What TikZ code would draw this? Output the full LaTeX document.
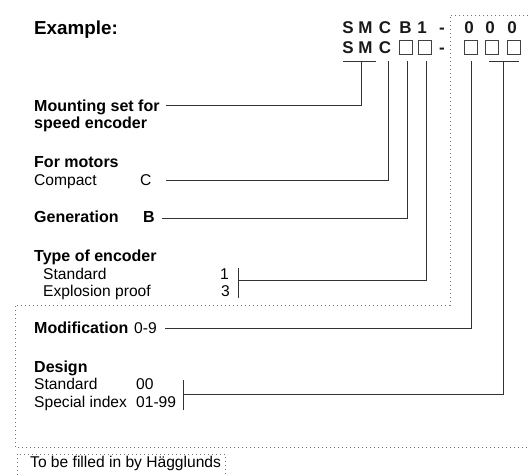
\documentclass[tikz,border=0pt]{standalone}
\usepackage{fontspec}
\setmainfont{Liberation Sans}
\begin{document}
\begin{tikzpicture}[x=1pt,y=-1pt,
  lbl/.style={anchor=base west, inner sep=0pt, font=\fontsize{15.6}{18}\selectfont},
  blbl/.style={anchor=base west, inner sep=0pt, font=\fontsize{16}{18}\selectfont\bfseries},
  code/.style={anchor=base, inner sep=0pt, text=black!90, font=\fontsize{17}{18}\selectfont\bfseries},
  conn/.style={line width=0.9pt, black!80},
  dots/.style={black!55, line width=0.9pt, dash pattern=on 0.9pt off 3.1pt},
  cbox/.style={draw=black!75, line width=0.8pt, minimum width=13pt, minimum height=14pt, inner sep=0pt}]
\useasboundingbox (0,0) rectangle (528,475);

% dotted frames
\coordinate (f1) at (528,15);
\coordinate (f2) at (450,15);
\coordinate (f3) at (450,305);
\coordinate (f4) at (15,305);
\coordinate (f5) at (15,447);
\coordinate (f6) at (528,447);
\draw[dots] (f1) -- (f2) -- (f3) -- (f4) -- (f5) -- (f6);
\coordinate (g1) at (17,475);
\coordinate (g2) at (17,454);
\coordinate (g3) at (225,454);
\coordinate (g4) at (225,475);
\draw[dots] (g1) -- (g2) -- (g3) -- (g4);
\node[lbl] (fill) at (30,467) {To be filled in by Hägglunds};

% title
\node[anchor=base west, inner sep=0pt, font=\fontsize{18.8}{20}\selectfont\bfseries] (ex) at (34,34) {Example:};

% code row 1
\node[code] (r1s) at (348,33) {S};
\node[code] (r1m) at (365.5,33) {M};
\node[code] (r1c) at (385,33) {C};
\node[code] (r1b) at (405.5,33) {B};
\node[code] (r1n) at (422,33) {1};
\node[code] (r1d) at (442,33) {-};
\node[code] (r1z1) at (469,33) {0};
\node[code] (r1z2) at (490,33) {0};
\node[code] (r1z3) at (512,33) {0};

% code row 2
\node[code] (r2s) at (348,53.5) {S};
\node[code] (r2m) at (365.5,53.5) {M};
\node[code] (r2c) at (385,53.5) {C};
\node[cbox] (bx1) at (405.5,47.5) {};
\node[cbox] (bx2) at (424.5,47.5) {};
\node[code] (r2d) at (442,53.5) {-};
\node[cbox] (bx3) at (471,47.5) {};
\node[cbox] (bx4) at (491.5,47.5) {};
\node[cbox] (bx5) at (513.5,47.5) {};

% labels
\node[blbl] (mount1) at (34,111) {Mounting set for};
\node[blbl] (mount2) at (34,128.5) {speed encoder};
\node[blbl] (motors) at (34,167.5) {For motors};
\node[lbl] (compact) at (34,185) {Compact};
\node[lbl] (cval) at (140,185) {C};
\node[blbl] (gen) at (34,222.5) {Generation};
\node[blbl] (bval) at (143,222.5) {B};
\node[blbl] (type) at (34,261) {Type of encoder};
\node[lbl] (std1) at (43,279) {Standard};
\node[lbl] (one) at (220,279) {1};
\node[lbl] (expl) at (43,296.5) {Explosion proof};
\node[lbl] (three) at (221,296.5) {3};
\node[blbl] (mod) at (34,333) {Modification};
\node[lbl] (mval) at (134,333) {0-9};
\node[blbl] (des) at (34,372) {Design};
\node[lbl] (std2) at (34,389.5) {Standard};
\node[lbl] (dval1) at (136,389.5) {00};
\node[lbl] (spec) at (34,407) {Special index};
\node[lbl] (dval2) at (136,407) {01-99};

% connectors
\coordinate (smL) at (343,61);
\coordinate (smR) at (376,61);
\draw[conn] (smL) -- (smR);
\coordinate (smT) at (361,61);
\coordinate (smB) at (361,105);
\coordinate (mountE) at (166,105);
\draw[conn] (smT) -- (smB) -- (mountE);

\coordinate (cT) at (388,61);
\coordinate (cB) at (388,180);
\coordinate (compE) at (166,180);
\draw[conn] (cT) -- (cB) -- (compE);

\coordinate (b1T) at (407,61);
\coordinate (b1B) at (407,218);
\coordinate (genE) at (162,218);
\draw[conn] (b1T) -- (b1B) -- (genE);

\coordinate (b2T) at (426,61);
\coordinate (b2B) at (426,280);
\coordinate (typeE) at (238,280);
\draw[conn] (b2T) -- (b2B) -- (typeE);
\coordinate (brT) at (238,268);
\coordinate (brB) at (238,298);
\draw[conn] (brT) -- (brB);

\coordinate (mT) at (471,61);
\coordinate (mB) at (471,328);
\coordinate (modE) at (165,328);
\draw[conn] (mT) -- (mB) -- (modE);

\coordinate (dL) at (489,61);
\coordinate (dR) at (519,61);
\draw[conn] (dL) -- (dR);
\coordinate (dT) at (503,61);
\coordinate (dB) at (503,394);
\coordinate (desE) at (183,394);
\draw[conn] (dT) -- (dB) -- (desE);
\coordinate (br2T) at (183,380);
\coordinate (br2B) at (183,410);
\draw[conn] (br2T) -- (br2B);
\end{tikzpicture}
\end{document}
